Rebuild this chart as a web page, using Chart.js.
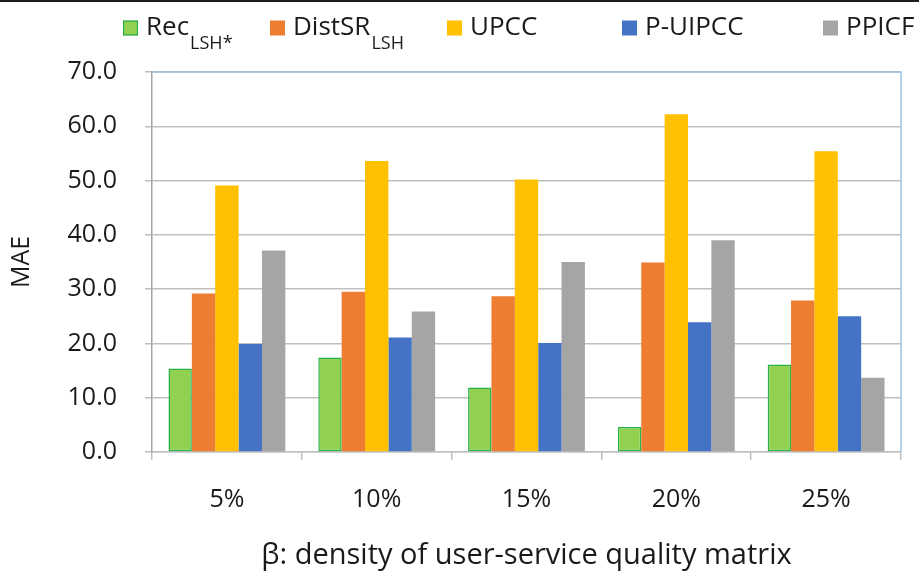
<!DOCTYPE html>
<html><head><meta charset="utf-8">
<script src="https://cdn.jsdelivr.net/npm/chart.js@4.4.0/dist/chart.umd.min.js"></script>
<style>html,body{margin:0;padding:0;background:#fff;overflow:hidden}#wrap{width:919px;height:576px;position:relative}canvas{display:block}</style>
</head><body><div id="wrap"><canvas id="c" width="919" height="576"></canvas></div>
<script>
// ---- data ----
const categories = ['5%', '10%', '15%', '20%', '25%'];
const seriesNames = ['Rec', 'DistSR', 'UPCC', 'P-UIPCC', 'PPICF'];
const seriesSubs = ['LSH*', 'LSH', '', '', ''];
const recLSH = [15.4, 17.4, 11.9, 4.6, 16.1];
const distSRLSH = [29.2, 29.5, 28.7, 34.9, 27.9];
const upcc = [49.1, 53.6, 50.2, 62.2, 55.4];
const pUipcc = [19.9, 21.1, 20.1, 23.9, 25.0];
const ppicf = [37.1, 25.9, 35.0, 39.0, 13.7];
const yTicks = [0, 10, 20, 30, 40, 50, 60, 70];
const xTitle = 'β: density of user-service quality matrix';
const yTitle = 'MAE';

// ---- styles ----
const FONT = '"Open Sans", "Noto Sans", sans-serif';
const fills = ['#92d050', '#ed7d31', '#ffc000', '#4472c4', '#a5a5a5'];
const borders = ['#2ab24a', '#ed7d31', '#ffc000', '#4472c4', '#a5a5a5'];
const borderW = [1.5, 0, 0, 0, 0];
const seriesValues = [recLSH, distSRLSH, upcc, pUipcc, ppicf];

const legendPlugin = {
  id: 'subLegend',
  afterDraw(chart, args, opts) {
    const ctx = chart.ctx;
    ctx.save();
    // dark band at top
    ctx.fillStyle = '#1c1c1c';
    ctx.fillRect(0, 0, chart.width, 2);
    chart.data.datasets.forEach((ds, i) => {
      const x = opts.xs[i], cy = opts.y;
      ctx.fillStyle = ds.backgroundColor;
      ctx.fillRect(x, cy - 7.5, 15, 15);
      if (ds.borderWidth) {
        ctx.strokeStyle = ds.borderColor; ctx.lineWidth = 1.2;
        ctx.strokeRect(x + 0.6, cy - 6.9, 13.8, 13.8);
      }
      ctx.fillStyle = '#1a1a1a';
      ctx.font = '26px ' + FONT;
      ctx.textBaseline = 'middle';
      ctx.textAlign = 'left';
      ctx.fillText(ds.label, x + 23, cy);
      const w = ctx.measureText(ds.label).width;
      if (ds.sub) {
        ctx.font = '18px ' + FONT;
        ctx.textBaseline = 'alphabetic';
        ctx.fillText(ds.sub, x + 23 + w + 1, cy + 21);
      }
    });
    // light blue plot frame (top and right)
    const a = chart.chartArea;
    ctx.strokeStyle = '#9dc3e6'; ctx.lineWidth = 1.5;
    ctx.beginPath();
    ctx.moveTo(a.left, a.top); ctx.lineTo(a.right, a.top); ctx.lineTo(a.right, a.bottom);
    ctx.stroke();
    ctx.restore();
  }
};

new Chart(document.getElementById('c'), {
  type: 'bar',
  data: {
    labels: categories,
    datasets: seriesNames.map((n, i) => ({
      label: n,
      sub: seriesSubs[i],
      data: seriesValues[i],
      backgroundColor: fills[i],
      borderColor: borders[i],
      borderWidth: borderW[i],
      borderSkipped: false,
      categoryPercentage: 0.78,
      barPercentage: 1.0
    }))
  },
  options: {
    responsive: false,
    animation: false,
    devicePixelRatio: 1,
    layout: { padding: { top: 72, right: 18, left: 0, bottom: 0 } },
    plugins: {
      legend: { display: false },
      tooltip: { enabled: false },
      subLegend: { xs: [123, 270, 447, 622, 823], y: 28 }
    },
    scales: {
      x: {
        grid: { drawOnChartArea: false, drawTicks: true, tickLength: 8, color: '#bfbfbf', lineWidth: 1.5, offset: true },
        border: { display: true, color: '#bfbfbf', width: 1.5 },
        ticks: { font: { family: FONT, size: 25 }, color: '#1a1a1a', padding: 25, maxRotation: 0 },
        title: { display: true, text: xTitle, font: { family: FONT, size: 29 }, color: '#1a1a1a', padding: { top: 3, bottom: 3 } },
        afterFit: s => { s.height = 124; }
      },
      y: {
        min: 0, max: 70,
        afterBuildTicks: s => { s.ticks = yTicks.map(v => ({ value: v })); },
        grid: { color: '#bfbfbf', lineWidth: 1.5, tickLength: 7, drawTicks: true },
        border: { display: true, color: '#a6a6a6', width: 1.5 },
        ticks: { font: { family: FONT, size: 25 }, color: '#1a1a1a', padding: 28, callback: v => Number(v).toFixed(1) },
        title: { display: true, text: yTitle, font: { family: FONT, size: 25 }, color: '#1a1a1a', padding: { top: 7, bottom: 7 } },
        afterFit: s => { s.width = 152; }
      }
    }
  },
  plugins: [legendPlugin]
});
</script>
</body></html>
